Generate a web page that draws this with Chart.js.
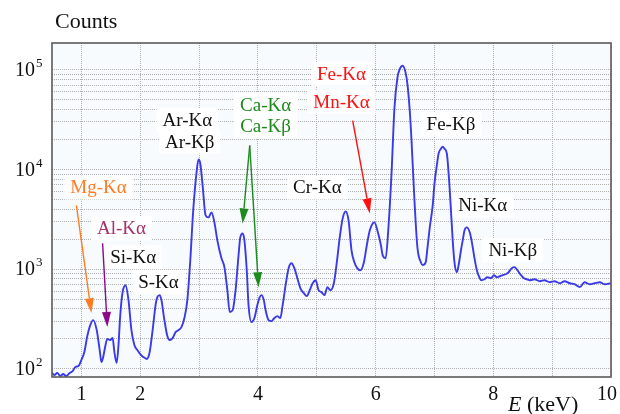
<!DOCTYPE html>
<html>
<head>
<meta charset="utf-8">
<script src="https://cdn.jsdelivr.net/npm/chart.js@4/dist/chart.umd.min.js"></script>
<style>
  html, body { margin: 0; padding: 0; background: #ffffff; }
  canvas { display: block; }
</style>
</head>
<body>
<canvas id="spectrum" width="620" height="414"></canvas>
<script>
// X-ray fluorescence spectrum: photon energy (keV) and detector counts
const energy = [
  0.49,0.54,0.59,0.64,0.69,0.74,0.80,0.85,0.90,0.95,
  1.00,1.05,1.10,1.15,1.20,1.26,1.31,1.34,1.37,1.41,
  1.44,1.49,1.53,1.56,1.60,1.63,1.66,1.70,1.75,1.80,
  1.85,1.90,1.95,2.00,2.05,2.11,2.16,2.21,2.26,2.29,
  2.33,2.36,2.41,2.46,2.50,2.55,2.60,2.65,2.70,2.75,
  2.80,2.85,2.90,2.96,2.99,3.02,3.06,3.11,3.16,3.21,
  3.26,3.31,3.38,3.43,3.48,3.52,3.57,3.62,3.67,3.70,
  3.74,3.77,3.81,3.84,3.89,3.94,3.99,4.03,4.06,4.10,
  4.13,4.18,4.23,4.28,4.33,4.38,4.42,4.47,4.52,4.57,
  4.62,4.67,4.72,4.78,4.83,4.88,4.93,4.98,5.03,5.08,
  5.13,5.18,5.23,5.29,5.34,5.39,5.44,5.49,5.54,5.59,
  5.64,5.69,5.74,5.80,5.85,5.90,5.95,5.98,6.03,6.09,
  6.12,6.17,6.22,6.27,6.32,6.37,6.41,6.46,6.51,6.54,
  6.58,6.61,6.66,6.71,6.77,6.80,6.85,6.88,6.92,6.97,
  7.00,7.04,7.07,7.11,7.14,7.17,7.21,7.26,7.31,7.34,
  7.38,7.41,7.45,7.48,7.51,7.55,7.60,7.63,7.68,7.72,
  7.77,7.80,7.85,7.90,7.96,8.01,8.06,8.11,8.16,8.21,
  8.26,8.31,8.36,8.41,8.47,8.52,8.57,8.62,8.70,8.79,
  8.87,8.96,9.04,9.13,9.21,9.30,9.38,9.47,9.55,9.64,
  9.72,9.81,9.89,10.0
];
const counts = [
  93,87,91,85,89,85,91,95,105,107,
  123,148,214,275,309,245,155,117,132,174,
  200,195,204,148,115,174,347,589,692,490,
  245,174,155,141,132,126,148,245,437,525,
  550,490,309,214,195,204,234,245,263,324,
  490,1230,3890,9770,12600,11500,6900,3470,3310,3720,
  2950,1950,1290,1050,617,372,389,617,1380,2090,
  2290,1950,977,437,295,324,437,525,550,490,
  389,309,302,324,339,324,437,692,1020,1150,
  1020,813,646,575,537,617,724,776,617,589,
  550,661,617,724,1170,2090,3240,3800,3090,1550,
  1170,1020,977,1170,1740,2450,2880,2950,2450,1740,
  1380,1290,2750,9120,41700,83200,102000,110000,93300,72400,
  38900,19500,4900,1660,1170,1100,1170,1620,2630,4370,
  7240,11000,14500,16200,17000,16200,14500,6170,1950,1170,
  933,1100,1550,1950,2450,2630,2340,1950,1290,977,
  813,776,794,832,813,871,832,851,871,891,
  933,1020,1050,977,871,813,794,776,794,759,
  776,741,759,724,759,724,708,661,741,708,
  724,741,708,724
];

// Axis ticks
const xGridValues = [1, 2, 3, 4, 5, 6, 7, 8, 9, 10];
const xLabelValues = [1, 2, 4, 6, 8, 10];
const yDecades = [100, 1000, 10000, 100000];
const yDecadeExponents = ['2', '3', '4', '5'];
const yGridValues = [];
for (const d of [100, 1000, 10000]) {
  for (let m = 1; m <= 9; m++) yGridValues.push(m * d);
}
yGridValues.push(100000);

// Peak labels, anchored in (energy, counts) space
const peakLabels = [
  { text: 'Mg-Kα', e: 1.29, c: 6610,  color: '#ff7a22' },
  { text: 'Al-Kα', e: 1.68, c: 2570,  color: '#a3336f' },
  { text: 'Si-Kα', e: 1.88, c: 1320,  color: '#111111' },
  { text: 'S-Kα',  e: 2.31, c: 741,   color: '#111111' },
  { text: 'Ar-Kα', e: 2.80, c: 31600, color: '#111111' },
  { text: 'Ar-Kβ', e: 2.84, c: 19100, color: '#111111' },
  { text: 'Ca-Kα', e: 4.13, c: 44700, color: '#1c8a1c' },
  { text: 'Ca-Kβ', e: 4.13, c: 27500, color: '#1c8a1c' },
  { text: 'Fe-Kα', e: 5.42, c: 91200, color: '#ff1010' },
  { text: 'Mn-Kα', e: 5.42, c: 47900, color: '#ff1010' },
  { text: 'Cr-Kα', e: 5.01, c: 6610,  color: '#111111' },
  { text: 'Fe-Kβ', e: 7.28, c: 28800, color: '#111111' },
  { text: 'Ni-Kα', e: 7.82, c: 4370,  color: '#111111' },
  { text: 'Ni-Kβ', e: 8.33, c: 1550,  color: '#111111' }
];

// Pointer arrows from labels to peaks, in (energy, counts) space
const peakArrows = [
  { e1: 0.915, c1: 4370,  e2: 1.17, c2: 363,  color: '#ff7a22' },
  { e1: 1.36,  c1: 1820,  e2: 1.44, c2: 263,  color: '#8a0a8a' },
  { e1: 3.86,  c1: 17400, e2: 3.74, c2: 2880, color: '#1c8a1c' },
  { e1: 3.86,  c1: 17400, e2: 4.01, c2: 661,  color: '#1c8a1c' },
  { e1: 5.61,  c1: 30900, e2: 5.90, c2: 3630, color: '#ff1010' }
];

const SERIF = '"Liberation Serif", "Times New Roman", serif';

function drawArrow(ctx, x1, y1, x2, y2, color) {
  const ang = Math.atan2(y2 - y1, x2 - x1);
  const headLen = 15, headHalf = 4.5;
  const bx = x2 - headLen * Math.cos(ang), by = y2 - headLen * Math.sin(ang);
  ctx.save();
  ctx.strokeStyle = color;
  ctx.fillStyle = color;
  ctx.lineWidth = 1.4;
  ctx.beginPath();
  ctx.moveTo(x1, y1);
  ctx.lineTo(bx, by);
  ctx.stroke();
  ctx.beginPath();
  ctx.moveTo(x2, y2);
  ctx.lineTo(bx + headHalf * Math.sin(ang), by - headHalf * Math.cos(ang));
  ctx.lineTo(bx - headHalf * Math.sin(ang), by + headHalf * Math.cos(ang));
  ctx.closePath();
  ctx.fill();
  ctx.restore();
}

const spectrumDecor = {
  id: 'spectrumDecor',
  beforeDraw(chart) {
    const { ctx, chartArea: a } = chart;
    ctx.save();
    ctx.fillStyle = '#f8fbfe';
    ctx.fillRect(a.left, a.top, a.right - a.left, a.bottom - a.top);
    ctx.restore();
  },
  beforeDatasetsDraw(chart) {
    const { ctx, scales: { x, y } } = chart;
    ctx.save();
    ctx.font = '19px ' + SERIF;
    ctx.textAlign = 'center';
    ctx.textBaseline = 'middle';
    // white boxes behind every label
    ctx.fillStyle = '#ffffff';
    for (const l of peakLabels) {
      const px = x.getPixelForValue(l.e), py = y.getPixelForValue(l.c);
      const w = ctx.measureText(l.text).width;
      ctx.fillRect(px - w / 2 - 6, py - 12, w + 12, 24);
    }
    for (const l of peakLabels) {
      ctx.fillStyle = l.color;
      ctx.fillText(l.text, x.getPixelForValue(l.e), y.getPixelForValue(l.c) + 1);
    }
    ctx.restore();
  },
  afterDatasetsDraw(chart) {
    const { ctx, chartArea: a, scales: { x, y }, width } = chart;
    for (const ar of peakArrows) {
      drawArrow(ctx,
        x.getPixelForValue(ar.e1), y.getPixelForValue(ar.c1),
        x.getPixelForValue(ar.e2), y.getPixelForValue(ar.c2), ar.color);
    }
    ctx.save();
    // plot frame
    ctx.strokeStyle = '#5a5a5a';
    ctx.lineWidth = 1.6;
    ctx.strokeRect(a.left, a.top, a.right - a.left, a.bottom - a.top);

    ctx.fillStyle = '#111111';
    ctx.textBaseline = 'alphabetic';
    // x tick labels
    ctx.font = '20px ' + SERIF;
    ctx.textAlign = 'center';
    for (const v of xLabelValues) {
      const t = String(v);
      const w = ctx.measureText(t).width;
      const px = Math.min(x.getPixelForValue(v), width - w / 2 - 3);
      ctx.fillText(t, px, a.bottom + 23);
    }
    // y tick labels as powers of ten
    yDecades.forEach((v, i) => {
      const py = y.getPixelForValue(v);
      ctx.font = '20px ' + SERIF;
      ctx.textAlign = 'right';
      ctx.fillText('10', a.left - 17, py + 6);
      ctx.font = '13px ' + SERIF;
      ctx.textAlign = 'left';
      ctx.fillText(yDecadeExponents[i], a.left - 16, py - 3);
    });
    // axis titles
    ctx.font = '22px ' + SERIF;
    ctx.textAlign = 'left';
    ctx.fillText('Counts', a.left + 3, a.top - 15);
    ctx.font = 'italic 22px ' + SERIF;
    const ex = 508, ey = a.bottom + 34;
    ctx.fillText('E', ex, ey);
    const ew = ctx.measureText('E').width;
    ctx.font = '22px ' + SERIF;
    ctx.fillText(' (keV)', ex + ew, ey);
    ctx.restore();
  }
};

new Chart(document.getElementById('spectrum'), {
  type: 'line',
  data: {
    datasets: [{
      data: energy.map((e, i) => ({ x: e, y: counts[i] })),
      borderColor: '#3a3ae8',
      borderWidth: 1.9,
      pointRadius: 0,
      fill: false,
      cubicInterpolationMode: 'monotone'
    }]
  },
  options: {
    responsive: false,
    animation: false,
    devicePixelRatio: 1,
    layout: { padding: { left: 52, right: 9, top: 43, bottom: 37 } },
    plugins: { legend: { display: false }, tooltip: { enabled: false } },
    scales: {
      x: {
        type: 'linear',
        min: 0.5,
        max: 10,
        afterBuildTicks: s => { s.ticks = xGridValues.map(v => ({ value: v })); },
        afterFit: s => { s.height = 0; },
        ticks: { display: false },
        grid: { drawTicks: false, color: '#b0b0b0', lineWidth: 1, borderDash: [1, 1] },
        border: { display: false, dash: [1, 1] }
      },
      y: {
        type: 'logarithmic',
        min: 83,
        max: 186000,
        afterBuildTicks: s => { s.ticks = yGridValues.map(v => ({ value: v })); },
        afterFit: s => { s.width = 0; },
        ticks: { display: false },
        grid: { drawTicks: false, color: '#b0b0b0', lineWidth: 1, borderDash: [1, 1] },
        border: { display: false, dash: [1, 1] }
      }
    }
  },
  plugins: [spectrumDecor]
});
</script>
</body>
</html>
